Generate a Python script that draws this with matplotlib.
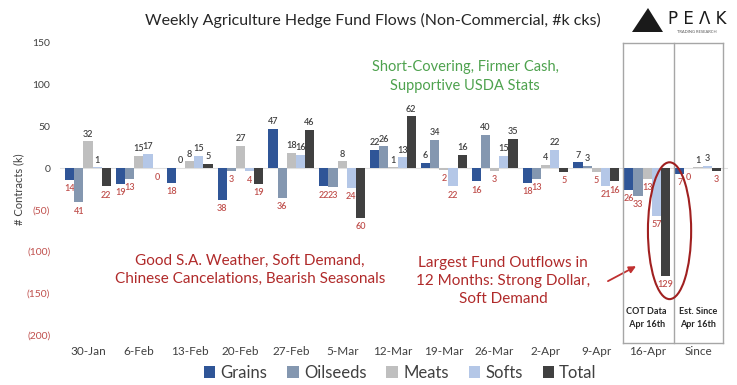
import matplotlib
matplotlib.use("Agg")
import matplotlib.pyplot as plt
from matplotlib.patches import Ellipse, Polygon
import numpy as np

plt.rcParams['font.family'] = ['Lato', 'DejaVu Sans']

weeks = ["30-Jan", "6-Feb", "13-Feb", "20-Feb", "27-Feb", "5-Mar", "12-Mar",
         "19-Mar", "26-Mar", "2-Apr", "9-Apr", "16-Apr", "Since"]
grains = [-14, -19, -18, -38, 47, -22, 22, 6, -16, -18, 7, -26, -7]
oilseeds = [-41, -13, 0.3, -3, -36, -23, 26, 34, 40, -13, 3, -33, -0.3]
meats = [32, 15, 8, 27, 18, 8, 1, -2, -3, 4, -5, -13, 1]
softs = [1, 17, 15, -4, 16, -24, 13, -22, 15, 22, -21, -57, 3]
total = [-22, -0.3, 5, -19, 46, -60, 62, 16, 35, -5, -16, -129, -3]

series = [("Grains", grains, "#2f5597"),
          ("Oilseeds", oilseeds, "#8497b0"),
          ("Meats", meats, "#bfbfbf"),
          ("Softs", softs, "#b4c7e7"),
          ("Total", total, "#404040")]

RED = "#c0504d"
DARK = "#404040"
ANN_RED = "#b02a2a"

fig = plt.figure(figsize=(7.37, 3.85), dpi=100)
ax = fig.add_axes([60 / 737, 50 / 385, 668 / 737, 292 / 385])

x = np.arange(len(weeks))
w = 0.18
for i, (name, vals, col) in enumerate(series):
    pos = x + (i - 2) * w
    ax.bar(pos, vals, w, color=col, label=name, zorder=3)
    for p, v in zip(pos, vals):
        txt = str(abs(int(round(v))))
        if v >= 0:
            ax.annotate(txt, (p, v), xytext=(0, 2), textcoords="offset points",
                        ha="center", va="bottom", fontsize=6.5, color=DARK,
                        fontweight="semibold")
        else:
            ax.annotate(txt, (p, v), xytext=(0, -3), textcoords="offset points",
                        ha="center", va="top", fontsize=6.5, color=RED,
                        fontweight="semibold")

ax.axhline(0, color="#e0e0e0", lw=0.8, zorder=2)
ax.set_xlim(-0.55, 12.59)
ax.set_ylim(-200, 150)
for s in ax.spines.values():
    s.set_visible(False)

yt = [150, 100, 50, 0, -50, -100, -150, -200]
ax.set_yticks(yt)
ax.set_yticklabels([str(v) if v >= 0 else "(%d)" % -v for v in yt], fontsize=7.5)
for lab, v in zip(ax.get_yticklabels(), yt):
    lab.set_color(DARK if v >= 0 else RED)
ax.tick_params(axis="both", length=0)
ax.tick_params(axis="y", pad=7)
ax.set_xticks(x)
ax.set_xticklabels(weeks, fontsize=8.5, color=DARK)
ax.tick_params(axis="x", pad=8)
ax.set_ylabel("# Contracts (k)", fontsize=8, color=DARK, labelpad=2)

# COT data box
bx0, bx1, bx2 = 10.53, 11.53, 12.49
ytop, ybot = 150, -209
kw = dict(color="#a6a6a6", lw=1, clip_on=False, zorder=4)
for bx in (bx0, bx1, bx2):
    ax.plot([bx, bx], [ybot, ytop], **kw)
ax.plot([bx0, bx2], [ytop, ytop], **kw)
ax.plot([bx0, bx2], [ybot, ybot], **kw)
ax.text(10.98, -180, "COT Data\n Apr 16th", ha="center", va="center", fontsize=6.5,
        fontweight="bold", color="#262626", linespacing=1.6)
ax.text(12.0, -180, "Est. Since\nApr 16th", ha="center", va="center", fontsize=6.5,
        fontweight="bold", color="#262626", linespacing=1.6)

# annotations
ax.text(7.42, 110, "Short-Covering, Firmer Cash,\nSupportive USDA Stats", ha="center",
        va="center", fontsize=10.5, color="#4ea24e", linespacing=1.4)
ax.text(3.19, -122, "Good S.A. Weather, Soft Demand,\nChinese Cancelations, Bearish Seasonals",
        ha="center", va="center", fontsize=11, color=ANN_RED, linespacing=1.35)
ax.text(8.17, -135, "Largest Fund Outflows in\n12 Months: Strong Dollar,\nSoft Demand",
        ha="center", va="center", fontsize=11, color=ANN_RED, linespacing=1.35)
ax.annotate("", xy=(10.83, -116), xytext=(10.18, -137),
            arrowprops=dict(arrowstyle="-|>", color="#c03030", lw=1.3, mutation_scale=10))
ax.add_patch(Ellipse((11.44, -75), 0.85, 164, fill=False, edgecolor="#a02020",
                     lw=1.5, zorder=5, clip_on=False))

# title and logo
fig.text(373 / 737, 1 - 20 / 385, "Weekly Agriculture Hedge Fund Flows (Non-Commercial, #k cks)",
         ha="center", va="center", fontsize=11.5, color="#262626")
fig.patches.append(Polygon([[632 / 737, 1 - 32 / 385], [648 / 737, 1 - 8 / 385],
                            [663 / 737, 1 - 32 / 385]], closed=True,
                           transform=fig.transFigure, facecolor="#1a1a1a", edgecolor="none"))
fig.text(697 / 737, 1 - 19 / 385, "P E Λ K", ha="center", va="center", fontsize=12,
         color="#1a1a1a", family=["DejaVu Sans"])
fig.text(697 / 737, 1 - 32 / 385, "TRADING RESEARCH", ha="center", va="center", fontsize=3,
         color="#555555")

fig.legend(loc="center", bbox_to_anchor=(0.543, 0.032), ncol=5, frameon=False,
           handlelength=0.7, handleheight=0.7, columnspacing=1.2, handletextpad=0.3,
           fontsize=12, labelcolor=DARK)

fig.savefig("out.png", dpi=100)
